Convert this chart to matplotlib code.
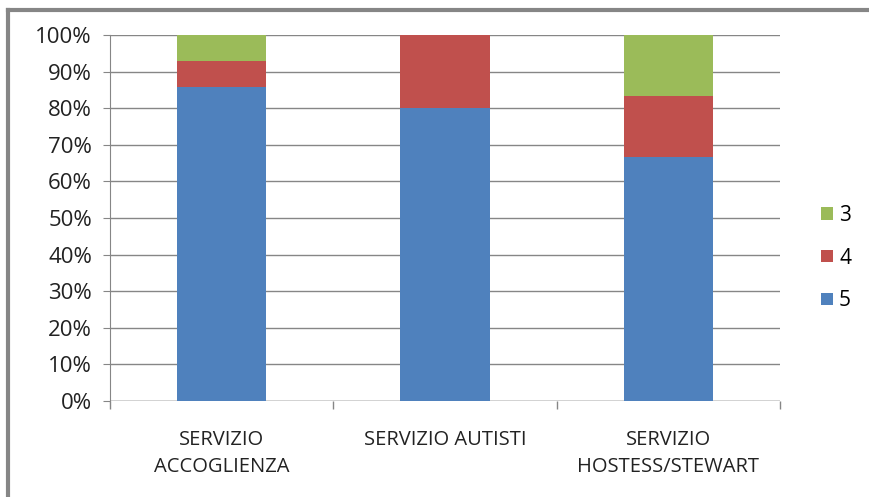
import matplotlib
matplotlib.use("Agg")
import matplotlib.pyplot as plt
from matplotlib.lines import Line2D
from matplotlib.ticker import PercentFormatter

categories = ["SERVIZIO\nACCOGLIENZA", "SERVIZIO AUTISTI", "SERVIZIO\nHOSTESS/STEWART"]
series_names = ["5", "4", "3"]
values_5 = [85.7, 80.0, 66.7]
values_4 = [7.1, 20.0, 16.7]
values_3 = [7.2, 0.0, 16.6]
colors = {"5": "#4f81bd", "4": "#c0504d", "3": "#9bbb59"}

plt.rcParams['font.family'] = ['Open Sans', 'DejaVu Sans']

W, H = 869, 497
fig = plt.figure(figsize=(W / 100, H / 100), dpi=100)
ax = fig.add_axes([110 / W, 1 - 401 / H, (780 - 110) / W, (401 - 35) / H])

x = list(range(len(categories)))
width = 0.4
b5 = ax.bar(x, values_5, width, color=colors["5"], label="5")
bottom4 = values_5
b4 = ax.bar(x, values_4, width, bottom=bottom4, color=colors["4"], label="4")
bottom3 = [a + b for a, b in zip(values_5, values_4)]
b3 = ax.bar(x, values_3, width, bottom=bottom3, color=colors["3"], label="3")

ax.set_xlim(-0.5, len(categories) - 0.5)
ax.set_ylim(0, 100)
ax.set_yticks(range(0, 101, 10))
ax.yaxis.set_major_formatter(PercentFormatter(decimals=0))
ax.grid(axis='y', color='#868686', linewidth=1)
ax.set_axisbelow(True)

for s in ['top', 'right', 'bottom']:
    ax.spines[s].set_visible(False)
ax.spines['left'].set_color('#868686')
ax.axhline(0, color='#868686', linewidth=1, zorder=0)

ax.set_xticks([-0.5, 0.5, 1.5, 2.5], minor=False)
ax.set_xticklabels([])
ax.tick_params(axis='x', which='major', length=6, color='#868686', width=1)
ax.set_xticks(x, minor=True)
ax.set_xticklabels(categories, minor=True, fontsize=14.5, color='#222222', linespacing=1.45)
ax.tick_params(axis='x', which='minor', length=0, pad=21)
ax.tick_params(axis='y', length=5, color='#868686', labelsize=16, labelcolor='#222222', pad=8)

handles = [b3, b4, b5]
leg = fig.legend(handles, ["3", "4", "5"], loc='center left',
                 bbox_to_anchor=(811 / W, 1 - 258 / H), frameon=False,
                 fontsize=15, handlelength=0.55, handleheight=0.55,
                 labelspacing=1.05, handletextpad=0.3, borderpad=0)

# outer frame
fig.add_artist(Line2D([8 / W, 8 / W], [0, 1 - 10 / H], transform=fig.transFigure,
                      color='#868686', linewidth=3))
fig.add_artist(Line2D([8 / W, 1], [1 - 10 / H, 1 - 10 / H], transform=fig.transFigure,
                      color='#868686', linewidth=3))

fig.savefig("out.png", dpi=100)
